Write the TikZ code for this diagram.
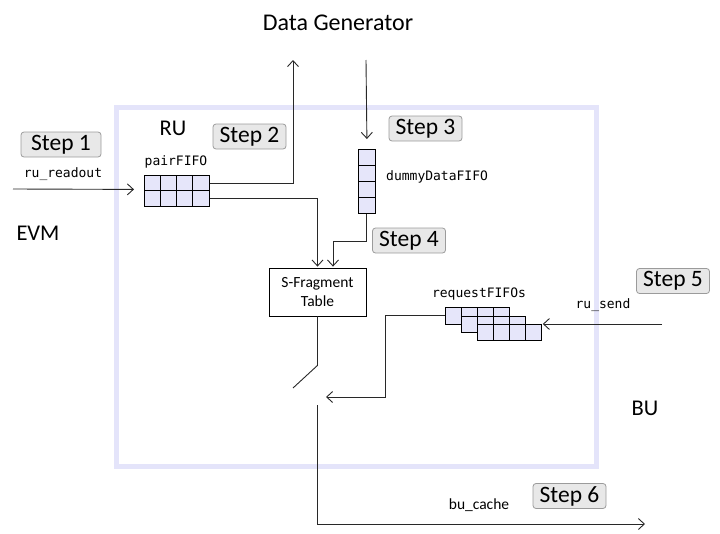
\documentclass[tikz,border=0pt]{standalone}
\usepackage{fontspec}
\setmainfont{Carlito}
\setmonofont{DejaVu Sans Mono}
\usetikzlibrary{arrows.meta}
\definecolor{lav}{RGB}{228,228,250}
\definecolor{lavfill}{RGB}{230,230,250}
\definecolor{stepfill}{RGB}{232,232,232}
\definecolor{stepdraw}{RGB}{155,155,155}
\definecolor{ink}{RGB}{40,40,40}
\tikzset{
  big/.style={font=\fontsize{22.5}{27}\selectfont, text=black, inner sep=0pt},
  stepbox/.style={draw=stepdraw, fill=stepfill, rounded corners=3pt, line width=0.8pt,
    minimum height=25pt, minimum width=73pt, inner sep=0pt,
    font=\fontsize{23.5}{27}\selectfont},
  monolbl/.style={font=\ttfamily\fontsize{13}{15}\selectfont, inner sep=0pt},
  fifo/.style={draw=black, fill=lavfill, line width=0.8pt, inner sep=0pt, anchor=north west},
  cellline/.style={draw=black, line width=0.8pt},
  conn/.style={draw=ink, line width=0.9pt},
  arr/.style={conn, -{Straight Barb[length=6pt,width=11pt,line width=0.9pt]}},
}
\begin{document}
\begin{tikzpicture}[x=1pt,y=-1pt]
\useasboundingbox (0,0) rectangle (720,533);
% outer box
\draw[lav, line width=5pt] (116,107) rectangle (596,466);

% titles
\node[big, font=\fontsize{24}{28}\selectfont] (dg) at (338,23) {Data Generator};
\node[big] (ru) at (173,128) {RU};
\node[big] (evm) at (38,233) {EVM};
\node[big] (bu) at (645,408) {BU};

% step boxes
\node[stepbox, minimum width=80pt] (s1) at (61,144.5) {Step 1};
\node[stepbox] (s2) at (249.5,136.5) {Step 2};
\node[stepbox] (s3) at (425.5,128.5) {Step 3};
\node[stepbox] (s4) at (409,240.5) {Step 4};
\node[stepbox] (s5) at (673,281) {Step 5};
\node[stepbox] (s6) at (569.5,496) {Step 6};

% pairFIFO
\node[fifo, minimum width=65pt, minimum height=31pt] (pair) at (144,175) {};
\draw[cellline] (144,190.5) -- (209,190.5);
\foreach \x in {160.25,176.5,192.75} \draw[cellline] (\x,175) -- (\x,206);
\node[monolbl] (pairlbl) at (176,162) {pairFIFO};

% dummyDataFIFO
\node[fifo, minimum width=17pt, minimum height=64pt] (dummy) at (358,149) {};
\foreach \y in {165,181,197} \draw[cellline] (358,\y) -- (375,\y);
\node[monolbl, anchor=west] (dummylbl) at (386,177) {dummyDataFIFO};

% S-Fragment Table
\node[draw=black, line width=0.8pt, fill=white, minimum width=97pt, minimum height=48pt,
  align=center, inner sep=0pt, font=\fontsize{15.5}{19}\selectfont] (sft) at (317.5,292)
  {S-Fragment\\Table};

% requestFIFOs
\node[fifo, minimum width=64pt, minimum height=17pt] (rf1) at (445,307) {};
\foreach \x in {461,477,493} \draw[cellline] (\x,307) -- (\x,324);
\node[fifo, minimum width=64pt, minimum height=16pt] (rf2) at (461,316) {};
\foreach \x in {477,493,509} \draw[cellline] (\x,316) -- (\x,332);
\node[fifo, minimum width=64pt, minimum height=16pt] (rf3) at (477,324) {};
\foreach \x in {493,509,525} \draw[cellline] (\x,324) -- (\x,340);
\node[monolbl] (rflbl) at (479,294) {requestFIFOs};

% labels
\node[monolbl] (rrlbl) at (63,174) {ru\_readout};
\node[monolbl] (rslbl) at (603,305) {ru\_send};
\node[inner sep=0pt, font=\fontsize{15.5}{19}\selectfont] (bclbl) at (479,505) {bu\_cache};

% free ends
\coordinate (rrin) at (13,189);
\coordinate (dgout) at (293,60);
\coordinate (dgin) at (366,60);
\coordinate (rsin) at (662,324);
\coordinate (sw1) at (293,388);
\coordinate (sw2) at (317,405);
\coordinate (swin) at (326,397);
\coordinate (bcout) at (645,524);

% connectors
\draw[arr] (rrin) -- ([xshift=-10pt,yshift=1.5pt]pair.west);
\draw[arr] ([yshift=7.5pt]pair.east) -| (dgout);
\draw[arr] ([yshift=-7.5pt]pair.east) -| ([yshift=1pt]sft.north);
\draw[arr] (dgin) -- ([yshift=10pt]dummy.north);
\draw[arr] (dummy.south) -- ++(0,28) -| ([xshift=15.5pt,yshift=1pt]sft.north);
\draw[conn] (sft.south) -- ++(0,49) -- (sw1);
\draw[arr] (rf1.west) -| (385,397) -- (swin);
\draw[arr] (rsin) -- ([xshift=1pt]rf3.north east);
\draw[arr] (sw2) |- (bcout);
\end{tikzpicture}
\end{document}
